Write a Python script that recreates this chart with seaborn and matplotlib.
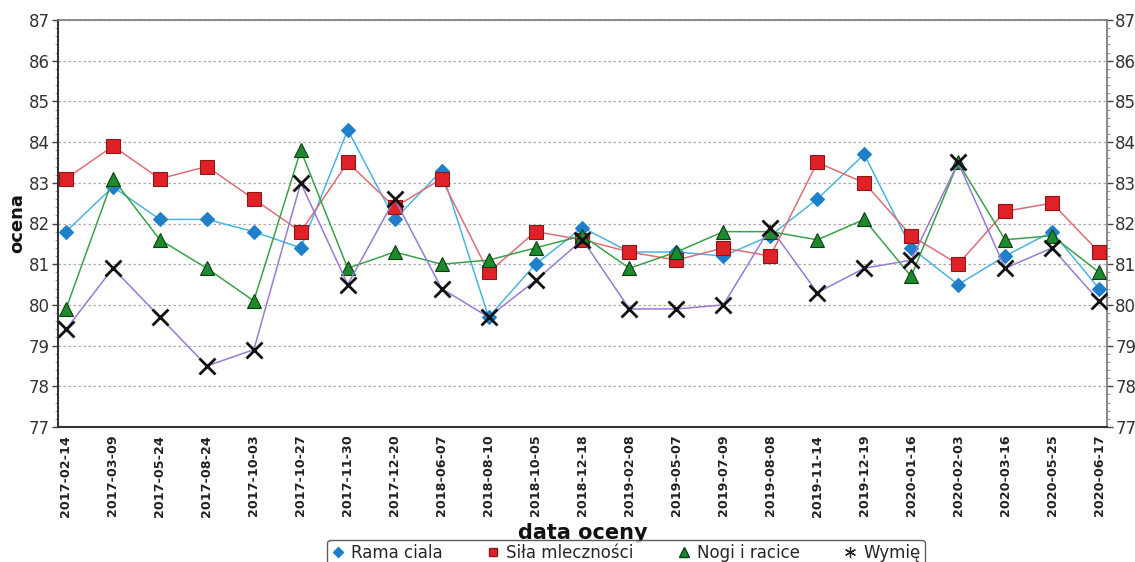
import matplotlib
matplotlib.use("Agg")
import matplotlib.pyplot as plt
import seaborn as sns
import pandas as pd
import numpy as np
from matplotlib.lines import Line2D
from matplotlib.ticker import MultipleLocator

dates = ["2017-02-14", "2017-03-09", "2017-05-24", "2017-08-24", "2017-10-03",
         "2017-10-27", "2017-11-30", "2017-12-20", "2018-06-07", "2018-08-10",
         "2018-10-05", "2018-12-18", "2019-02-08", "2019-05-07", "2019-07-09",
         "2019-08-08", "2019-11-14", "2019-12-19", "2020-01-16", "2020-02-03",
         "2020-03-16", "2020-05-25", "2020-06-17"]

rama_ciala = [81.8, 82.9, 82.1, 82.1, 81.8, 81.4, 84.3, 82.1, 83.3, 79.7,
              81.0, 81.9, 81.3, 81.3, 81.2, 81.7, 82.6, 83.7, 81.4, 80.5,
              81.2, 81.8, 80.4]
sila_mlecznosci = [83.1, 83.9, 83.1, 83.4, 82.6, 81.8, 83.5, 82.4, 83.1, 80.8,
                   81.8, 81.6, 81.3, 81.1, 81.4, 81.2, 83.5, 83.0, 81.7, 81.0,
                   82.3, 82.5, 81.3]
nogi_i_racice = [79.9, 83.1, 81.6, 80.9, 80.1, 83.8, 80.9, 81.3, 81.0, 81.1,
                 81.4, 81.7, 80.9, 81.3, 81.8, 81.8, 81.6, 82.1, 80.7, 83.5,
                 81.6, 81.7, 80.8]
wymie = [79.4, 80.9, 79.7, 78.5, 78.9, 83.0, 80.5, 82.6, 80.4, 79.7,
         80.6, 81.6, 79.9, 79.9, 80.0, 81.9, 80.3, 80.9, 81.1, 83.5,
         80.9, 81.4, 80.1]

series_names = ["Rama ciala", "Siła mleczności", "Nogi i racice", "Wymię"]

sns.set_theme(style="white")
plt.rcParams['font.family'] = ['DejaVu Sans']

fig = plt.figure(figsize=(11.35, 5.62), dpi=100)
ax = fig.add_axes([58/1135, 1-427/562, (1107-58)/1135, (427-20)/562])

x = np.arange(len(dates))
df = pd.DataFrame({"x": x, "Rama": rama_ciala, "Sila": sila_mlecznosci,
                   "Nogi": nogi_i_racice, "Wymie": wymie})

styles = [
    ("Rama", "#4ab4e0", "D", "#1f7fc9", "#1f7fc9", 7.5, 1.1),
    ("Sila", "#e06c78", "s", "#e02228", "#8a1a1a", 9.5, 1.1),
    ("Nogi", "#3aa04a", "^", "#1e8a2e", "#0b3d12", 10.5, 1.1),
    ("Wymie", "#9a7ad0", "x", "#111111", "#111111", 12, 1.1),
]
for col, lc, mk, mfc, mec, ms, lw in styles:
    sns.lineplot(data=df, x="x", y=col, ax=ax, color=lc, lw=lw,
                 marker=mk, markersize=ms, markerfacecolor=mfc,
                 markeredgecolor=mec,
                 markeredgewidth=(2.0 if mk == "x" else 0.8), zorder=3)

ax.set_xlim(-0.17, len(dates) - 1 + 0.17)
ax.set_ylim(77, 87)
ax.yaxis.set_major_locator(MultipleLocator(1))
ax.yaxis.set_minor_locator(MultipleLocator(0.2))
ax.set_xticks(x)
ax.set_xticklabels(dates, rotation=90, fontsize=9.2, fontweight="bold", color="#222222")
ax.tick_params(axis="x", direction="inout", length=9, width=1.5, color="#222222", pad=1)
ax.tick_params(axis="y", which="major", direction="out", length=4, width=1, color="#444444",
               labelsize=12, labelcolor="#333333", left=True, right=True,
               labelleft=True, labelright=True, pad=2)
ax.tick_params(axis="y", which="minor", direction="out", length=2, width=0.6, color="#888888",
               left=True, right=True)
ax.grid(axis="y", which="major", linestyle=(0, (2, 2)), color="#aaaaaa", lw=0.9)
ax.grid(axis="x", visible=False)
for s in ["left", "bottom"]:
    ax.spines[s].set_color("#333333")
    ax.spines[s].set_linewidth(1.5)
for s in ["top", "right"]:
    ax.spines[s].set_color("#777777")
    ax.spines[s].set_linewidth(1.2)

ax.set_xlabel("data oceny", fontsize=15, fontweight="bold", color="#111111", labelpad=0)
ax.set_ylabel("ocena", fontsize=13, fontweight="bold", color="#111111", labelpad=2)
ax.xaxis.set_label_coords((583-58)/(1107-58), -(523-427)/(427-20))

handles = [
    Line2D([], [], ls="none", marker="D", ms=5, mfc="#1f7fc9", mec="#1f7fc9"),
    Line2D([], [], ls="none", marker="s", ms=6, mfc="#e02228", mec="#8a1a1a"),
    Line2D([], [], ls="none", marker="^", ms=7, mfc="#1e8a2e", mec="#0b3d12"),
    Line2D([], [], ls="none", marker=(6, 2, 0), ms=8, mec="#222222", mew=0.9),
]
leg = fig.legend(handles, series_names, loc="center", ncol=4,
                 bbox_to_anchor=(626/1135, 1-553/562), frameon=True, fontsize=12,
                 handlelength=0.8, handletextpad=0.4, columnspacing=2.6,
                 borderpad=0.25, fancybox=True)
leg.get_frame().set_edgecolor("#333333")
leg.get_frame().set_linewidth(1.0)

fig.savefig("out.png", dpi=100)
